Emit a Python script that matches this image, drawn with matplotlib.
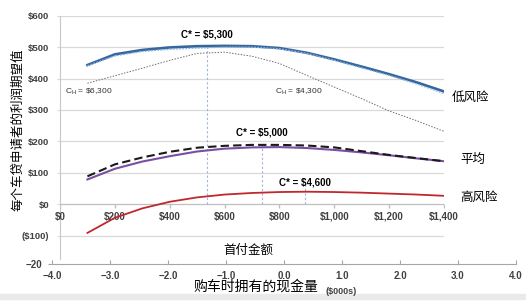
import numpy as np
import matplotlib.pyplot as plt
from matplotlib.patches import Rectangle

plt.rcParams['font.family'] = ['Liberation Sans', 'Noto Sans CJK SC', 'DejaVu Sans']
CJK = ['Noto Sans CJK SC', 'DejaVu Sans']

# Down payment ($), inner axis
down_pay = [100, 200, 300, 400, 500, 600, 700, 800, 900, 1000, 1100, 1200, 1300, 1400]

# Expected profit per applicant ($)
low_risk = [443, 477, 491, 499, 503, 504, 503, 497, 482, 461, 438, 414, 388, 359]
low_risk_alt = [441, 472, 486, 493, 497, 500, 500, 495, 480, 458, 434, 410, 383, 352]
low_risk_ch = [385, 409, 433, 458, 480, 484, 471, 448, 410, 373, 336, 297, 266, 232]
avg_dash = [89, 127, 149, 167, 180, 186, 189, 189, 187, 181, 169, 157, 147, 137]
avg_solid = [79, 113, 136, 153, 168, 177, 181, 182, 179, 173, 165, 156, 146, 137]
high_risk = [-91, -43, -13, 8, 22, 31, 36, 39, 40, 39, 37, 34, 31, 27]

# optimum markers: (down payment, top of line)
opt_x = [536, 736, 893]
opt_top = [503, 189, 68]

y_ticks = [-100, 0, 100, 200, 300, 400, 500, 600]
y_labels = ['($100)', '$0', '$100', '$200', '$300', '$400', '$500', '$600']
x_ticks = [0, 200, 400, 600, 800, 1000, 1200, 1400]
x_labels = ['$0', '$200', '$400', '$600', '$800', '$1,000', '$1,200', '$1,400']

outer_ticks = [-4.0, -3.0, -2.0, -1.0, 0.0, 1.0, 2.0, 3.0, 4.0]

W, H = 526, 301
fig = plt.figure(figsize=(W / 100, H / 100), dpi=100)
fig.patch.set_facecolor('white')

txt = '#404040'
grid_c = '#d9d9d9'

# outer axis (cash on hand)
ax0 = fig.add_axes([52 / W, 1 - 264.3 / H, 464 / W, 0.6])
ax0.set_xlim(-4, 4)
ax0.set_ylim(-20, 100)
ax0.set_xticks(outer_ticks)
ax0.set_xticklabels([f'{v:.1f}'.replace('-', '\u2212') for v in outer_ticks],
                    fontsize=7, fontweight='bold', color=txt)
ax0.set_yticks([-20])
ax0.set_yticklabels(['\u221220'], fontsize=7, fontweight='bold', color=txt)
for s in ['top', 'right', 'left']:
    ax0.spines[s].set_visible(False)
ax0.spines['bottom'].set_color('#a6a6a6')
ax0.tick_params(axis='x', direction='in', length=3, pad=5, color='#a6a6a6')
ax0.tick_params(axis='y', direction='out', length=3, pad=4, color='#a6a6a6')
ax0.patch.set_alpha(0)

# inner chart (down payment)
ax = fig.add_axes([60 / W, 1 - 259.3 / H, 384 / W, (259.3 - 15.7) / H])
ax.set_xlim(0, 1400)
ax.set_ylim(-175, 600)
ax.patch.set_alpha(0)
for s in ['top', 'right', 'bottom']:
    ax.spines[s].set_visible(False)
ax.spines['left'].set_color('#c8c8c8')
ax.set_yticks(y_ticks)
ax.set_yticklabels(y_labels, fontsize=6.8, fontweight='bold', color=txt)
ax.tick_params(axis='y', length=2.2, pad=5.5, color=grid_c)
ax.set_xticks([])
for v in y_ticks:
    ax.axhline(v, color='#bfbfbf' if v == 0 else grid_c, lw=0.9, zorder=0)
ax.plot(x_ticks, np.zeros(len(x_ticks)), ls='none', marker=3, ms=3,
        color='#bfbfbf', zorder=0)
for v, lab in zip(x_ticks, x_labels):
    ax.annotate(lab, (v, 0), xytext=(0, -9), textcoords='offset points',
                ha='center', va='center', fontsize=7, fontweight='bold', color=txt)

# optimum guide lines
for xv, top in zip(opt_x, opt_top):
    ax.plot([xv, xv], [0, top], color='#9fb4d4', lw=0.8, ls=(0, (2, 2)), zorder=1)

# curves
ax.plot(down_pay, low_risk_ch, color='#6e6e6e', lw=0.7, ls=(0, (1.5, 1.5)), zorder=2)
ax.plot(down_pay, low_risk, color='#36679c', lw=1.9, zorder=3)
ax.plot(down_pay, low_risk_alt, color='#8db4e2', lw=0.9, ls=(0, (1.5, 1)), zorder=4)
ax.plot(down_pay, avg_solid, color='#7a4fa3', lw=1.5, zorder=3)
ax.plot(down_pay, avg_dash, color='#1a1a1a', lw=1.5, ls=(0, (4, 2)), zorder=4)
ax.plot(down_pay, high_risk, color='#c0282d', lw=1.3, zorder=3)

# annotations
ax.text(536, 540, 'C* = $5,300', ha='center', va='center', fontsize=7, fontweight='bold')
ax.text(736, 227, 'C* = $5,000', ha='center', va='center', fontsize=7, fontweight='bold')
ax.text(893, 68, 'C* = $4,600', ha='center', va='center', fontsize=7, fontweight='bold')
ax.text(18, 358, r'C$_\mathregular{H}$ = \$6,300', ha='left', va='center', fontsize=6, color='#303030')
ax.text(871, 358, r'C$_\mathregular{H}$ = \$4,300', ha='center', va='center', fontsize=6, color='#303030')

# series labels on the right
fig.text(452 / W, 1 - 97 / H, '低风险', family=CJK, fontsize=9, va='center', ha='left')
fig.text(460 / W, 1 - 159 / H, '平均', family=CJK, fontsize=9, va='center', ha='left')
fig.text(460 / W, 1 - 197 / H, '高风险', family=CJK, fontsize=9, va='center', ha='left')

# axis titles
fig.text(248 / W, 1 - 250 / H, '首付金额', family=CJK, fontsize=9, ha='center', va='center')
fig.text(18 / W, 1 - 130 / H, '每个车贷申请者的利润期望值', family=CJK, fontsize=9,
         rotation=90, ha='center', va='center')
fig.text(193 / W, 1 - 287 / H, '购车时拥有的现金量', family=CJK, fontsize=10, ha='left', va='center')
fig.text(325 / W, 1 - 291 / H, '($000s)', fontsize=6.5, fontweight='bold', color=txt,
         ha='left', va='center')

# faint shadow band at the bottom
fig.patches.append(Rectangle((0, 2 / H), 1, 5 / H, transform=fig.transFigure,
                             color='#eaeaea', zorder=0))

fig.savefig('out.png', dpi=100)
